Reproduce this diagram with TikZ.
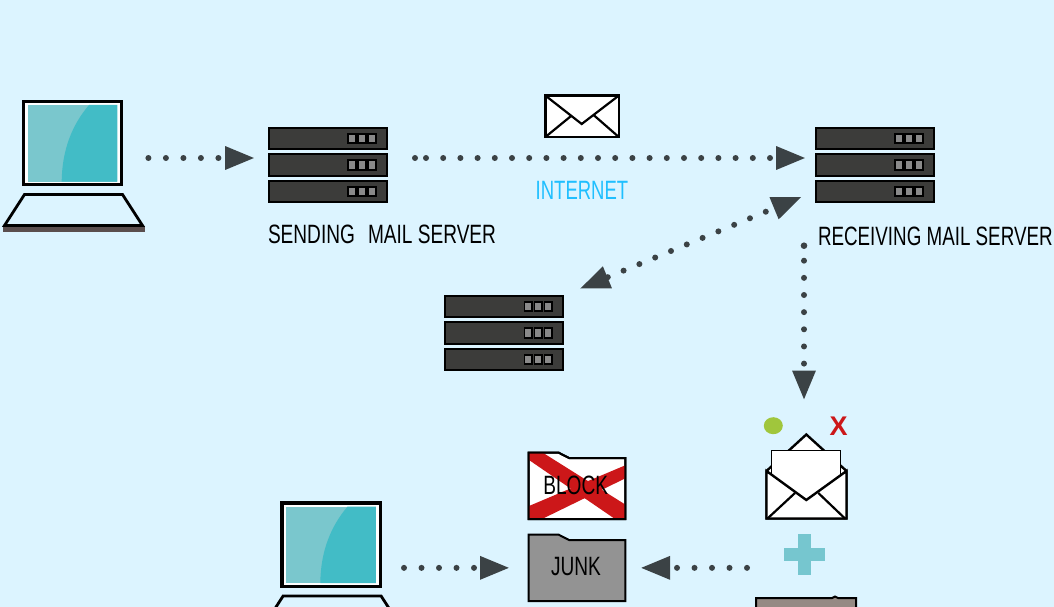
\documentclass[tikz,border=0pt]{standalone}
\usepackage{fontspec}
\usetikzlibrary{arrows.meta,calc}
\newfontfamily\narrowf[FakeStretch=0.72]{Liberation Sans}
\setmainfont{Liberation Sans}
\definecolor{bgc}{HTML}{DCF4FF}
\definecolor{dotc}{HTML}{3B4245}
\definecolor{srvc}{HTML}{3C3C3A}
\definecolor{ledc}{HTML}{8A8A8A}
\definecolor{scrlight}{HTML}{7AC7CD}
\definecolor{scrdark}{HTML}{42BCC6}
\definecolor{barc}{HTML}{5A4E4E}
\definecolor{netc}{HTML}{1FBFFF}
\definecolor{crossc}{HTML}{CC1719}
\definecolor{junkc}{HTML}{939393}
\definecolor{brownc}{HTML}{958A84}
\definecolor{plusc}{HTML}{76C6CF}
\definecolor{greenc}{HTML}{A0C63C}
\tikzset{
  x=1pt,y=-1pt,
  dotline/.style={draw=dotc,line width=6pt,line cap=round,dash pattern=on 0pt off 17.5pt},
  dotlinesteep/.style={draw=dotc,line width=6pt,line cap=round,dash pattern=on 0pt off 17.15pt},
  head/.style={-{Triangle[length=29.5pt,width=22pt,fill=dotc]}},
  twohead/.style={{Triangle[length=30pt,width=22pt,fill=dotc]}-{Triangle[length=30pt,width=22pt,fill=dotc]}},
  looseDot/.style={fill=dotc,draw=none},
  label/.style={inner sep=0pt,outer sep=0pt,anchor=base west,font=\narrowf\fontsize{26.5}{30}\selectfont},
  server/.pic={
    \node[minimum width=120pt,minimum height=76pt,inner sep=0pt,outer sep=0pt] (-box) at (60,38) {};
    \foreach \yy in {0,26.5,53}{
      \draw[black,line width=2pt,fill=srvc] (0.8,\yy+0.6) rectangle (119,\yy+22);
      \foreach \xx in {80.3,90.3,100.3}
        \draw[black,line width=1.7pt,fill=ledc] (\xx,\yy+6.7) rectangle (\xx+7.4,\yy+16.3);
    }
  },
  laptop/.pic={
    \node[minimum width=143pt,minimum height=131pt,inner sep=0pt,outer sep=0pt] (-box) at (73.9,165.5) {};
    \draw[black,line width=3.2pt,fill=white] (23.3,101.5) rectangle (121.7,184.7);
    \fill[scrlight] (27.7,105) rectangle (117.3,181.7);
    \fill[scrdark] (89,105) .. controls (72,125) and (62,150) .. (61.7,181.7) -- (117.3,181.7) -- (117.3,105) -- cycle;
    \fill[barc] (2.5,226) rectangle (145,231.7);
    \draw[black,line width=2.8pt,line join=miter,fill=bgc] (24.5,194.5) -- (122.5,194.5) -- (142.5,225.5) -- (4.5,225.5) -- cycle;
  },
  folder/.pic={
    \node[minimum width=97pt,minimum height=67.7pt,inner sep=0pt,outer sep=0pt] (-box) at (48.3,33.85) {};
    \draw[black,line width=2pt,fill=#1] (0,0.5) -- (29.6,0.5) -- (40.3,6) -- (96.6,6) -- (96.6,67) -- (0,67) -- cycle;
  },
}
\begin{document}
\begin{tikzpicture}
\useasboundingbox (0,0) rectangle (1054,607);
\clip (0,0) rectangle (1054,607);
\fill[bgc] (0,0) rectangle (1054,607);

% icons
\pic (laptopA) at (0,0) {laptop};
\pic (laptopB) at (258.6,401.5) {laptop};
\pic (sendsrv) at (268,127) {server};
\pic (recvsrv) at (815,127) {server};
\pic (mxsrv) at (444.2,295) {server};

% internet envelope
\node[minimum width=73.5pt,minimum height=41.5pt,inner sep=0pt,outer sep=0pt,draw=black,line width=2.6pt,fill=white] (netmail) at (582.1,116.3) {};
\draw[black,line width=2.2pt,line join=miter]
  (netmail.north west) -- (581.7,124) -- (netmail.north east)
  (netmail.south west) -- (571.7,115.5)
  (netmail.south east) -- (593,114.5);

% labels
\node[label] (lblsend) at (268,243.5) {SENDING\ \ \hspace{2.5pt}MAIL SERVER};
\node[label,text=netc,xscale=0.97] (lblnet) at (535.7,199.5) {INTERNET};
\node[label,xscale=0.985] (lblrecv) at (818,245.3) {RECEIVING MAIL SERVER};

% block folder
\pic (blockf) at (528.7,452) {folder=white};
\begin{scope}
  \clip (528.7,452.5) -- (558.3,452.5) -- (569,458) -- (625.3,458) -- (625.3,519) -- (528.7,519) -- cycle;
  \fill[crossc] (529,452) -- (541.7,452) -- (626,505) -- (626,519) -- (615,519) -- (529,460) -- cycle;
  \fill[crossc] (529,506) -- (626,465) -- (626,478) -- (542,519) -- (529,519) -- cycle;
\end{scope}
\draw[black,line width=2pt] (528.7,452.5) -- (558.3,452.5) -- (569,458) -- (625.3,458) -- (625.3,519) -- (528.7,519) -- cycle;
\node[inner sep=0pt,font=\narrowf\fontsize{26.5}{30}\selectfont] (blocktxt) at (575.7,485.5) {BLOCK};

% junk folder
\pic (junkf) at (528.7,534) {folder=junkc};
\node[inner sep=0pt,font=\narrowf\fontsize{26.5}{30}\selectfont] (junktxt) at (576,567) {JUNK};

% open envelope
\node[minimum width=81.6pt,minimum height=85.7pt,inner sep=0pt,outer sep=0pt] (mail) at (806.5,476.2) {};
\draw[black,line width=2.4pt,fill=white,line join=miter] (766.5,471) -- (806.3,434.5) -- (846.5,471) -- (846.5,518.5) -- (766.5,518.5) -- cycle;
\fill[white] (771.3,450.7) rectangle (840.7,480);
\draw[black,line width=1pt] (771.3,475) -- (771.3,450.7) -- (840.7,450.7) -- (840.7,475);
\fill[white] (766.5,471) -- (806.3,500) -- (846.5,471) -- (846.5,518.5) -- (766.5,518.5) -- cycle;
\draw[black,line width=2.4pt,line join=miter] (766.5,518.5) -- (766.5,471) -- (806.3,500) -- (846.5,471) -- (846.5,518.5) -- cycle;
\draw[black,line width=2.2pt] (767.5,518.5) -- (795,493) (845,518.5) -- (818.3,493);
\fill[greenc] (773.3,425.7) ellipse [x radius=9.5,y radius=8.5];
\node[inner sep=0pt,text=crossc,font=\bfseries\fontsize{27}{30}\selectfont] (xmark) at (838.5,426) {X};

% plus
\fill[plusc] (797.7,533.5) rectangle (810.7,574.5);
\fill[plusc] (784,548) rectangle (825,561);

% cropped brown folder
\draw[black,line width=2pt,fill=brownc] (756,609) -- (756,598) -- (832,598) -- (835,596.5) -- (838,598) -- (856,598) -- (856,609);

% connectors
\draw[dotline,head,shorten <=3pt,shorten >=13.3pt] ([yshift=7pt]laptopA-box.east |- sendsrv-box.west) -- ([yshift=7pt]sendsrv-box.west);
\coordinate (a2s) at (426,158);
\coordinate (a2x) at (415,158);
\fill[looseDot] (a2x) circle (3);
\draw[dotline,head,dash pattern=on 0pt off 17.2pt,shorten >=9.3pt] (a2s) -- ([yshift=7pt]recvsrv-box.west);
\draw[dotline,twohead,dash pattern=on 0pt off 17.1pt,dash phase=15.2pt]
  ([shift={(15.5,-6.2)}]mxsrv-box.north east) -- ([shift={(-13.2,-6.2)}]recvsrv-box.south west);
\coordinate (a4x) at (804,245.7);
\coordinate (a4s) at (804,260.7);
\fill[looseDot] (a4x) circle (3.3);
\draw[dotlinesteep,head,shorten >=33.3pt] (a4s) -- (a4s |- mail.north);
\coordinate (fromMail) at (747,567.85);
\draw[dotline,head,shorten >=15pt] (fromMail) -- (junkf-box.east);
\draw[dotline,head,shorten >=18.9pt] (laptopB-box.east |- junkf-box.west) -- (junkf-box.west);
\end{tikzpicture}
\end{document}
